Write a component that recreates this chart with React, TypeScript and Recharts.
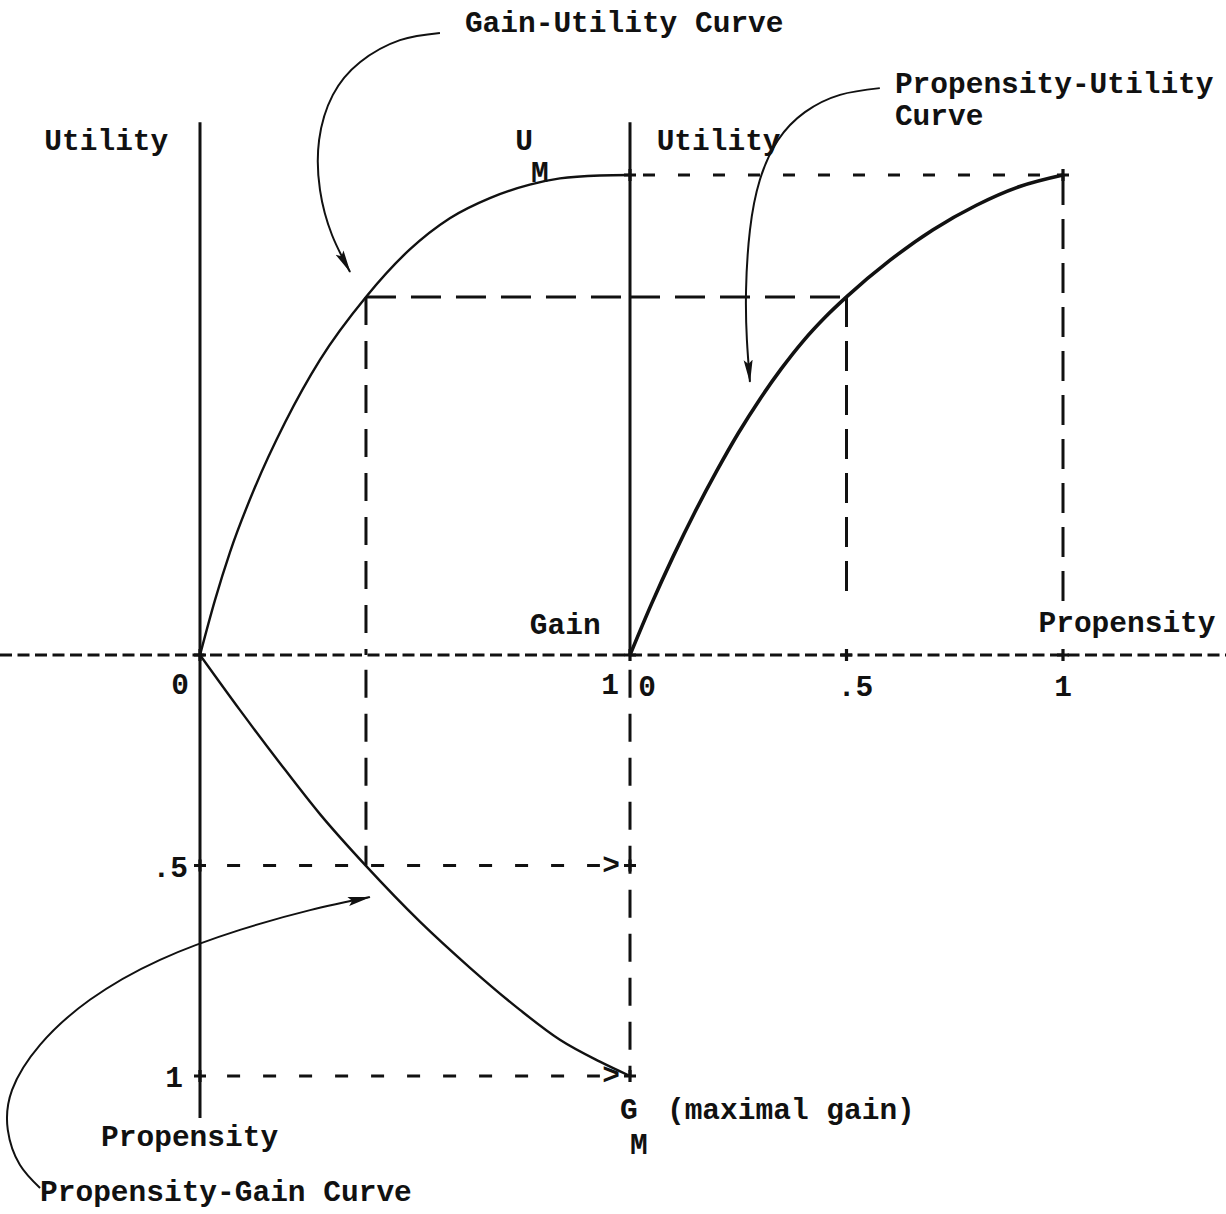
import React from 'react';
import { ComposedChart, Line, Scatter, XAxis, YAxis } from 'recharts';

// ---------------- data ----------------
// Gain-Utility curve: gain g in [0, G_M=1], utility u in [0, U_M=1]
const gainUtilityCurve = [
  { g: 0, u: 0 }, { g: 0.035, u: 0.115 }, { g: 0.07, u: 0.215 }, { g: 0.128, u: 0.35 },
  { g: 0.198, u: 0.485 }, { g: 0.279, u: 0.615 }, { g: 0.386, u: 0.746 }, { g: 0.488, u: 0.845 },
  { g: 0.581, u: 0.91 }, { g: 0.674, u: 0.952 }, { g: 0.767, u: 0.98 }, { g: 0.837, u: 0.993 },
  { g: 0.93, u: 0.999 }, { g: 1, u: 1 },
];
// Propensity-Utility curve: propensity p in [0,1]
const propensityUtilityCurve = [
  { p: 0, u: 0 }, { p: 0.05, u: 0.107 }, { p: 0.1, u: 0.206 }, { p: 0.15, u: 0.298 },
  { p: 0.2, u: 0.383 }, { p: 0.25, u: 0.462 }, { p: 0.3, u: 0.533 }, { p: 0.35, u: 0.597 },
  { p: 0.4, u: 0.654 }, { p: 0.45, u: 0.703 }, { p: 0.5, u: 0.746 }, { p: 0.6, u: 0.822 },
  { p: 0.7, u: 0.886 }, { p: 0.8, u: 0.937 }, { p: 0.9, u: 0.976 }, { p: 1, u: 1 },
];
// Propensity-Gain curve: gain g (x) vs propensity q (downwards)
const propensityGainCurve = [
  { g: 0, q: 0 }, { g: 0.093, q: 0.131 }, { g: 0.186, q: 0.257 }, { g: 0.279, q: 0.378 },
  { g: 0.386, q: 0.501 }, { g: 0.512, q: 0.634 }, { g: 0.628, q: 0.743 }, { g: 0.744, q: 0.843 },
  { g: 0.837, q: 0.914 }, { g: 0.93, q: 0.966 }, { g: 1, q: 1 },
];

const U_MAX = 1;
const G_MAX = 1;
const P_HALF = 0.5;
const P_FULL = 1;
const U_AT_HALF = 0.746; // utility for propensity .5
const G_AT_HALF = 0.386; // gain with that utility

const gainTickValues = [0, 1];
const gainTickLabels = ['0', '1'];
const propTickValues = [0, 0.5, 1];
const propTickLabels = ['0', '.5', '1'];
const propLeftTickValues = [0.5, 1];
const propLeftTickLabels = ['.5', '1'];

// annotation arrows (hand drawn leaders)
const gainUtilityLeader = [
  { g: 0.558, u: 1.296 }, { g: 0.465, u: 1.281 }, { g: 0.372, u: 1.235 }, { g: 0.309, u: 1.167 },
  { g: 0.277, u: 1.073 }, { g: 0.279, u: 0.969 }, { g: 0.307, u: 0.875 }, { g: 0.349, u: 0.798 },
];
const propensityUtilityLeader = [
  { p: 0.577, u: 1.181 }, { p: 0.485, u: 1.167 }, { p: 0.404, u: 1.131 }, { p: 0.342, u: 1.073 },
  { p: 0.3, u: 0.99 }, { p: 0.277, u: 0.885 }, { p: 0.268, u: 0.76 }, { p: 0.27, u: 0.656 },
  { p: 0.277, u: 0.569 },
];
const propensityGainLeader = [
  { g: -0.372, q: 1.266 }, { g: -0.419, q: 1.211 }, { g: -0.447, q: 1.128 }, { g: -0.437, q: 1.033 },
  { g: -0.372, q: 0.926 }, { g: -0.256, q: 0.819 }, { g: -0.093, q: 0.724 }, { g: 0.093, q: 0.653 },
  { g: 0.256, q: 0.606 }, { g: 0.395, q: 0.575 },
];

// ---------------- layout ----------------
const FRAME = { width: 1226, height: 1214, gain0X: 200, gain1X: 630, prop0X: 630, prop1X: 1063, zeroY: 655, util1Y: 175, prop1Y: 1076 };
const gS = FRAME.gain1X - FRAME.gain0X;
const pS = FRAME.prop1X - FRAME.prop0X;
const uS = FRAME.zeroY - FRAME.util1Y;
const qS = FRAME.prop1Y - FRAME.zeroY;
const gainDomain = [-FRAME.gain0X / gS, (FRAME.width - FRAME.gain0X) / gS];
const propXDomain = [-FRAME.prop0X / pS, (FRAME.width - FRAME.prop0X) / pS];
const utilDomain = [-(FRAME.height - FRAME.zeroY) / uS, FRAME.zeroY / uS];
const propYDomain = [-FRAME.zeroY / qS, (FRAME.height - FRAME.zeroY) / qS];

const AXIS_TOP_U = 1.11;
const AXIS_BOTTOM_Q = 1.1;
const DASH_START_G = 0.063;
const DASH_END_G = 0.93;
const GUIDE_STOP_U_FULL = 0.1;
const GUIDE_STOP_U_HALF = 0.133;

// free text placed in the (gain, utility) frame
const TEXT_LAYOUT = [
  { text: 'Gain-Utility Curve', g: 0.616, u: 1.321 },
  { text: 'Utility', g: -0.362, u: 1.075 },
  { text: 'U', g: 0.733, u: 1.075 },
  { text: 'M', g: 0.77, u: 1.008 },
  { text: 'Utility', g: 1.062, u: 1.075 },
  { text: 'Propensity-Utility', g: 1.616, u: 1.194 },
  { text: 'Curve', g: 1.616, u: 1.127 },
  { text: 'Gain', g: 0.767, u: 0.066 },
  { text: 'Propensity', g: 1.95, u: 0.07 },
  { text: 'G', g: 0.977, u: -0.944 },
  { text: 'M', g: 1.0, u: -1.017 },
  { text: '(maximal gain)', g: 1.086, u: -0.944 },
  { text: 'Propensity', g: -0.23, u: -1.0 },
  { text: 'Propensity-Gain Curve', g: -0.372, u: -1.115 },
];

const FONT = {
  fontFamily: "'Liberation Mono', 'DejaVu Sans Mono', monospace",
  fontSize: 29.5,
  fontWeight: 700,
  fill: '#111',
};
const INK = '#111';
const TEXT_DROP = 3;

const textShape = (anchor: string, nudge: (t: string) => [number, number]) => (props: any) => {
  const { cx, cy, payload } = props;
  if (cx == null || cy == null) return <g />;
  const [dx, dy] = nudge(payload.text);
  return (
    <text x={cx + dx} y={cy + dy + TEXT_DROP} textAnchor={anchor} dominantBaseline="central" {...FONT}>
      {payload.text}
    </text>
  );
};

const crossShape = (props: any) => {
  const { cx, cy } = props;
  if (cx == null || cy == null) return <g />;
  return (
    <path d={`M${cx - 6},${cy}H${cx + 6}M${cx},${cy - 6}V${cy + 6}`} stroke={INK} strokeWidth={3.2} fill="none" />
  );
};

const RIGHT_TICK_NUDGE: Record<string, number> = { '0': 17, '.5': 9, '1': 0 };
const LEFT_TICK_NUDGE: Record<string, number> = { '.5': -12, '1': -17 };

export default function App() {
  const gainTickData = gainTickValues.map((g, i) => ({ g, u: 0, text: gainTickLabels[i] }));
  const propTickData = propTickValues.map((p, i) => ({ p, u: 0, text: propTickLabels[i] }));
  const propLeftTickData = propLeftTickValues.map((q, i) => ({ g: 0, q, text: propLeftTickLabels[i] }));
  const arrowCharData = propLeftTickValues.map((q) => ({ g: G_MAX, q, text: '>' }));

  const line = (key: string, data: any[], xId: string, yId: string, yKey: string, opts: any = {}) => (
    <Line
      key={key}
      data={data}
      xAxisId={xId}
      yAxisId={yId}
      dataKey={yKey}
      type={opts.type || 'linear'}
      stroke={INK}
      strokeWidth={opts.width || 3}
      strokeDasharray={opts.dash}
      strokeLinecap="butt"
      dot={false}
      activeDot={false}
      isAnimationActive={false}
      markerEnd={opts.marker}
      legendType="none"
    />
  );

  return (
    <div style={{ position: 'absolute', left: 0, top: 0, width: FRAME.width, height: FRAME.height, background: '#fff' }}>
      <svg width={0} height={0} style={{ position: 'absolute' }}>
        <defs>
          <marker id="leaderHead" markerUnits="userSpaceOnUse" markerWidth={26} markerHeight={12} refX={22} refY={6} orient="auto">
            <path d="M0,1.5 L23,6 L0,10.5 L4,6 Z" fill={INK} />
          </marker>
        </defs>
      </svg>
      <ComposedChart width={FRAME.width} height={FRAME.height} margin={{ top: 0, right: 0, bottom: 0, left: 0 }}>
        <XAxis xAxisId="g" dataKey="g" type="number" domain={gainDomain} hide allowDataOverflow />
        <XAxis xAxisId="p" dataKey="p" type="number" domain={propXDomain} hide allowDataOverflow />
        <YAxis yAxisId="u" dataKey="u" type="number" domain={utilDomain} hide allowDataOverflow />
        <YAxis yAxisId="q" dataKey="q" type="number" domain={propYDomain} reversed hide allowDataOverflow />

        {/* horizontal zero axis */}
        {line('axisH', [{ g: gainDomain[0], u: 0 }, { g: gainDomain[1], u: 0 }], 'g', 'u', 'u', { dash: '12 5.5', width: 3 })}
        {/* vertical axes */}
        {line('leftUp', [{ g: 0, u: 0 }, { g: 0, u: AXIS_TOP_U }], 'g', 'u', 'u', { width: 3 })}
        {line('leftDown', [{ g: 0, q: 0 }, { g: 0, q: AXIS_BOTTOM_Q }], 'g', 'q', 'q', { width: 3 })}
        {line('midUp', [{ g: G_MAX, u: 0 }, { g: G_MAX, u: AXIS_TOP_U }], 'g', 'u', 'u', { width: 3 })}
        {line('midDown', [{ g: G_MAX, q: 0.035 }, { g: G_MAX, q: P_FULL }], 'g', 'q', 'q', { dash: '28 16', width: 3 })}

        {/* projection guides */}
        {line('topDash', [{ p: 0.03, u: U_MAX }, { p: P_FULL, u: U_MAX }], 'p', 'u', 'u', { dash: '12 23', width: 3 })}
        {line('pFullV', [{ p: P_FULL, u: U_MAX }, { p: P_FULL, u: GUIDE_STOP_U_FULL }], 'p', 'u', 'u', { dash: '30 14', width: 3 })}
        {line('halfH1', [{ g: G_AT_HALF, u: U_AT_HALF }, { g: G_MAX, u: U_AT_HALF }], 'g', 'u', 'u', { dash: '30 15', width: 3 })}
        {line('halfH2', [{ p: 0, u: U_AT_HALF }, { p: P_HALF, u: U_AT_HALF }], 'p', 'u', 'u', { dash: '30 15', width: 3 })}
        {line('gHalfUp', [{ g: G_AT_HALF, u: U_AT_HALF }, { g: G_AT_HALF, u: 0 }], 'g', 'u', 'u', { dash: '28 16', width: 3 })}
        {line('gHalfDown', [{ g: G_AT_HALF, q: 0.035 }, { g: G_AT_HALF, q: P_HALF }], 'g', 'q', 'q', { dash: '28 16', width: 3 })}
        {line('pHalfV', [{ p: P_HALF, u: U_AT_HALF }, { p: P_HALF, u: GUIDE_STOP_U_HALF }], 'p', 'u', 'u', { dash: '30 14', width: 3 })}
        {line('qHalf', [{ g: DASH_START_G, q: P_HALF }, { g: DASH_END_G, q: P_HALF }], 'g', 'q', 'q', { dash: '13 23', width: 3 })}
        {line('qFull', [{ g: DASH_START_G, q: P_FULL }, { g: DASH_END_G, q: P_FULL }], 'g', 'q', 'q', { dash: '13 23', width: 3 })}

        {/* curves */}
        {line('gainUtility', gainUtilityCurve, 'g', 'u', 'u', { type: 'monotone', width: 2.4 })}
        {line('propUtility', propensityUtilityCurve, 'p', 'u', 'u', { type: 'monotone', width: 3.6 })}
        {line('propGain', propensityGainCurve, 'g', 'q', 'q', { type: 'monotone', width: 2.4 })}

        {/* leaders */}
        {line('leadGU', gainUtilityLeader, 'g', 'u', 'u', { type: 'natural', width: 2, marker: 'url(#leaderHead)' })}
        {line('leadPU', propensityUtilityLeader, 'p', 'u', 'u', { type: 'natural', width: 2, marker: 'url(#leaderHead)' })}
        {line('leadPG', propensityGainLeader, 'g', 'q', 'q', { type: 'natural', width: 2, marker: 'url(#leaderHead)' })}

        {/* plus marks */}
        <Scatter data={[{ g: 0, u: 0 }]} xAxisId="g" yAxisId="u" shape={crossShape} isAnimationActive={false} />
        <Scatter
          data={[{ p: 0, u: U_MAX }, { p: P_FULL, u: U_MAX }, { p: P_HALF, u: 0 }, { p: P_FULL, u: 0 }, { p: 0, u: 0 }]}
          xAxisId="p"
          yAxisId="u"
          shape={crossShape}
          isAnimationActive={false}
        />
        <Scatter
          data={[{ g: 0, q: P_HALF }, { g: 0, q: P_FULL }, { g: G_MAX, q: P_HALF }, { g: G_MAX, q: P_FULL }]}
          xAxisId="g"
          yAxisId="q"
          shape={crossShape}
          isAnimationActive={false}
        />

        {/* texts */}
        <Scatter data={arrowCharData} xAxisId="g" yAxisId="q" shape={textShape('middle', () => [-19, -3])} isAnimationActive={false} />
        <Scatter data={gainTickData} xAxisId="g" yAxisId="u" shape={textShape('middle', () => [-20, 28])} isAnimationActive={false} />
        <Scatter data={propTickData} xAxisId="p" yAxisId="u" shape={textShape('middle', (t) => [RIGHT_TICK_NUDGE[t] || 0, 30])} isAnimationActive={false} />
        <Scatter data={propLeftTickData} xAxisId="g" yAxisId="q" shape={textShape('end', (t) => [LEFT_TICK_NUDGE[t] || 0, 0])} isAnimationActive={false} />
        <Scatter data={TEXT_LAYOUT} xAxisId="g" yAxisId="u" shape={textShape('start', () => [0, 0])} isAnimationActive={false} />
      </ComposedChart>
    </div>
  );
}
